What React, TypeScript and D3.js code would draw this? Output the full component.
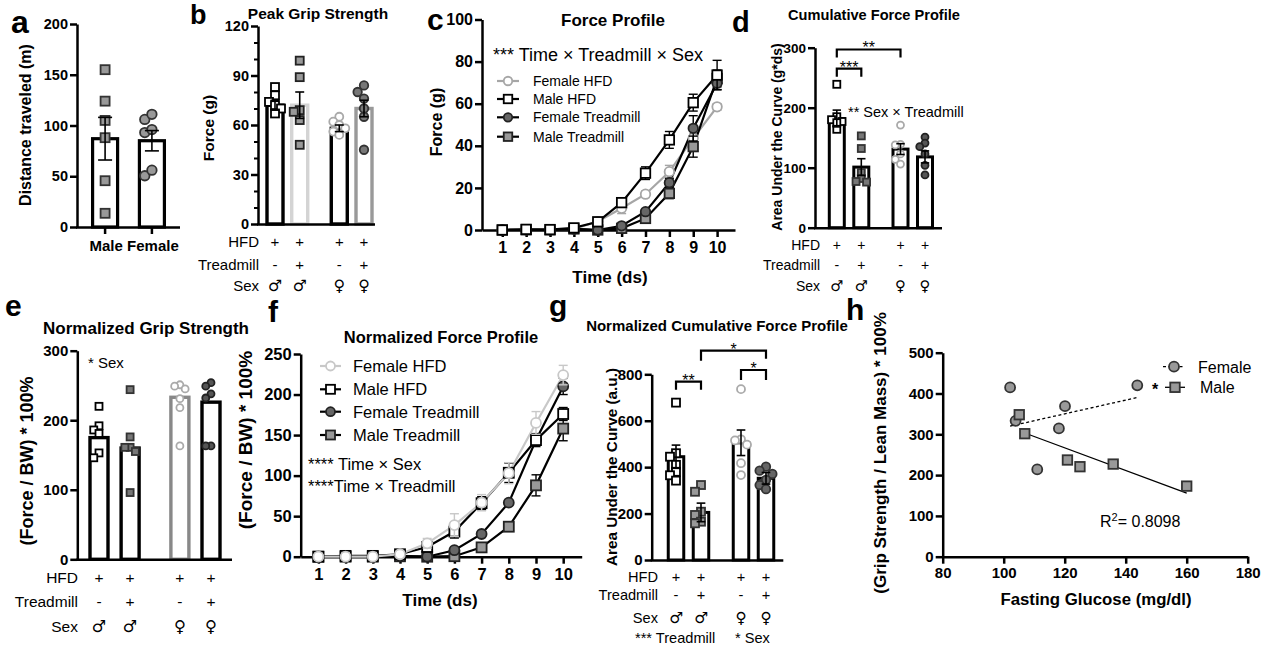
import React, { useEffect, useRef } from 'react';
import * as d3 from 'd3';

const FONT = '"Liberation Sans", Arial, Helvetica, sans-serif';
const SYMFONT = '"DejaVu Sans", "Liberation Sans", sans-serif';

// ---- a: distance traveled
const aGroups = ['Male', 'Female'];
const aMeans = [87, 85];
const aSem = [21, 10];
const aMale = [155, 124, 105, 88, 45.6, 13.5];
const aFemale = [106, 111, 93, 96, 50.5, 56];

// shared table rows for b, d, e, g
const rowLabels = ['HFD', 'Treadmill', 'Sex'];
const hfdRow = ['+', '+', '+', '+'];
const treadRow = ['-', '+', '-', '+'];
const sexRow = ['\u2642', '\u2642', '\u2640', '\u2640'];

// ---- b: peak grip strength (g)
const bMeans = [72, 72, 58, 70];
const bSem = [3, 8, 2, 5];
const bMaleHFD = [83, 78, 74, 72, 70, 67];
const bMaleTM = [99, 89, 69, 68, 63, 48];
const bFemaleHFD = [65, 62, 60, 58, 56, 54];
const bFemaleTM = [84, 80, 76, 70, 65, 45];

// ---- c: force profile (g)
const days = [1, 2, 3, 4, 5, 6, 7, 8, 9, 10];
const seriesNames = ['Female HFD', 'Male HFD', 'Female Treadmill', 'Male Treadmill'];
const cFemaleHFD = [0, 0.2, 0.2, 0.5, 4, 10.3, 17, 27.7, 43.6, 58.5];
const cMaleHFD = [0, 0.3, 0.2, 1, 3.9, 13, 27, 42.8, 60.5, 73.6];
const cFemaleTM = [0, 0.1, 0.1, 0.5, 0, 2, 8.7, 22.5, 48.3, 69.7];
const cMaleTM = [0, 0.1, 0.1, 0.5, 0, 0.8, 5.5, 17.4, 39.6, 72];
const cFemaleHFDErr = [0, 0, 0, 0, 0.8, 2.5, 1.5, 3, 3.5, 1.5];
const cMaleHFDErr = [0, 0, 0, 0.3, 0.8, 2, 3, 4, 4, 7];
const cFemaleTMErr = [0, 0, 0, 0, 0, 0.5, 1, 2, 6, 3];
const cMaleTMErr = [0, 0, 0, 0, 0, 0.5, 1, 2.5, 5, 4];

// ---- d: cumulative force profile (g*ds)
const dMeans = [182, 101, 131, 118];
const dSem = [14, 14, 9, 10];
const dMaleHFD = [239, 185, 180, 177, 175, 164];
const dMaleTM = [153, 132, 92, 82, 77, 76];
const dFemaleHFD = [171, 139, 138, 123, 114, 106];
const dFemaleTM = [151, 141, 135, 123, 104, 88];

// ---- e: normalized grip strength
const eMeans = [175, 160, 233, 226];
const eMaleHFD = [220, 192, 186, 181, 153, 146];
const eMaleTM = [244, 176, 161, 161, 155, 96];
const eFemaleHFD = [251, 249, 245, 231, 218, 163];
const eFemaleTM = [254, 249, 238, 232, 163, 163];

// ---- f: normalized force profile
const fFemaleHFD = [0, 0, 0, 3, 16.5, 39, 66.6, 103, 165, 224];
const fMaleHFD = [0, 1, 1, 3, 12, 31, 66, 103.5, 143.8, 176];
const fFemaleTM = [0, 0, 0, 1, 0, 8, 28, 66.6, 144, 210];
const fMaleTM = [0, 0, 0, 0.5, 0, 0.6, 11.5, 37, 88, 158];
const fFemaleHFDErr = [0, 0, 0, 1, 6, 14, 10, 13, 14, 12];
const fMaleHFDErr = [0, 0, 0, 1, 4, 8, 8, 12, 8, 8];
const fFemaleTMErr = [0, 0, 0, 0, 0, 2, 3, 3, 5, 10];
const fMaleTMErr = [0, 0, 0, 0, 0, 1, 2, 3, 13, 15];

// ---- g: normalized cumulative force profile (a.u.)
const gMeans = [445, 205, 505, 352];
const gSem = [50, 40, 55, 25];
const gMaleHFD = [678, 460, 445, 410, 380, 365, 342];
const gMaleTM = [323, 294, 208, 194, 165, 158];
const gFemaleHFD = [736, 520, 515, 497, 417, 366];
const gFemaleTM = [402, 385, 371, 345, 323, 305];

// ---- h: grip strength / lean mass vs fasting glucose
const hFemaleGlucose = [102.1, 103.9, 111, 118.1, 120.1, 143.8];
const hFemaleGrip = [415, 333, 214, 314.5, 369, 420];
const hMaleGlucose = [105.1, 106.9, 120.9, 125, 135.9, 160];
const hMaleGrip = [348, 301.5, 237, 220.6, 227, 173];

const slot = [0, 1, 2.6, 3.6];

type Sel = d3.Selection<SVGGElement, unknown, null, undefined>;
type Mark = { kind: 'sq' | 'circ'; fill: string; stroke: string; size: number };

function marker(g: Sel, m: Mark, x: number, y: number) {
  if (m.kind === 'sq') {
    g.append('rect')
      .attr('x', x - m.size / 2).attr('y', y - m.size / 2)
      .attr('width', m.size).attr('height', m.size)
      .attr('fill', m.fill).attr('stroke', m.stroke).attr('stroke-width', 1.8);
  } else {
    g.append('circle')
      .attr('cx', x).attr('cy', y).attr('r', m.size / 2)
      .attr('fill', m.fill).attr('stroke', m.stroke).attr('stroke-width', 1.8);
  }
}

// small deterministic scatter so overlapping points spread sideways
function jitter(vals: number[], y: (v: number) => number, size: number) {
  const placed: { dx: number; py: number }[] = [];
  const order = vals.map((v, i) => i).sort((a, b) => vals[b] - vals[a]);
  const res: number[] = new Array(vals.length).fill(0);
  const step = size * 0.75;
  for (const i of order) {
    const py = y(vals[i]);
    const cands = [0, -1, 1, -1.5, 1.5].map(k => k * step);
    let dx = 0;
    for (const c of cands) {
      if (placed.every(q => Math.abs(q.dx - c) >= step || Math.abs(q.py - py) >= size * 0.85)) { dx = c; break; }
    }
    placed.push({ dx, py });
    res[i] = dx;
  }
  return res;
}

function txt(g: Sel, x: number, y: number, s: string, fs: number, opts: { bold?: boolean; anchor?: string; rotate?: boolean; fill?: string; family?: string } = {}) {
  const t = g.append('text')
    .attr('font-family', opts.family || FONT)
    .attr('font-size', fs)
    .attr('font-weight', opts.bold ? 'bold' : 'normal')
    .attr('text-anchor', opts.anchor || 'start')
    .attr('fill', opts.fill || '#000')
    .text(s);
  if (opts.rotate) t.attr('transform', `translate(${x},${y}) rotate(-90)`).attr('dy', '0.35em');
  else t.attr('x', x).attr('y', y);
  return t;
}

function styleAxis(ax: Sel, fs: number) {
  ax.select('.domain').attr('stroke', '#000').attr('stroke-width', 2.5);
  ax.selectAll('line').attr('stroke', '#000').attr('stroke-width', 2.5);
  ax.selectAll('text').attr('font-family', FONT).attr('font-size', fs).attr('font-weight', 'bold').attr('fill', '#000');
}

function yAxis(g: Sel, y: d3.ScaleLinear<number, number>, x: number, ticks: number[], fs: number, minor?: number[]) {
  const ax = g.append('g').attr('transform', `translate(${x},0)`)
    .call(d3.axisLeft(y).tickValues(ticks).tickSize(7).tickSizeOuter(0).tickPadding(2) as any);
  styleAxis(ax, fs);
  if (minor) {
    const mi = g.append('g').attr('transform', `translate(${x},0)`)
      .call(d3.axisLeft(y).tickValues(minor).tickSize(4).tickSizeOuter(0).tickFormat(() => '') as any);
    mi.select('.domain').remove();
    mi.selectAll('line').attr('stroke', '#000').attr('stroke-width', 2);
  }
}

type BarCfg = {
  y0: number; yTop: number; max: number; ticks: number[]; minor?: number[]; fs: number;
  axisX: number; xEnd: number; centers: number[]; width: number; strokes: string[]; sw: number;
  means: number[]; sems?: number[]; points: number[][]; marks: Mark[];
};

function drawBars(svg: Sel, p: BarCfg) {
  const g = svg.append('g');
  const y = d3.scaleLinear().domain([0, p.max]).range([p.y0, p.yTop]);
  p.means.forEach((m, i) => {
    g.append('rect')
      .attr('x', p.centers[i] - p.width / 2).attr('y', y(m))
      .attr('width', p.width).attr('height', p.y0 - y(m))
      .attr('fill', '#fff').attr('stroke', p.strokes[i]).attr('stroke-width', p.sw);
  });
  p.points.forEach((vals, i) => {
    const dx = jitter(vals, y, p.marks[i].size);
    vals.forEach((v, j) => marker(g, p.marks[i], p.centers[i] + dx[j], y(v)));
  });
  if (p.sems) {
    p.means.forEach((m, i) => {
      const e = p.sems![i];
      const cx = p.centers[i];
      const cw = p.width * 0.28;
      g.append('line').attr('x1', cx).attr('x2', cx).attr('y1', y(m - e)).attr('y2', y(m + e)).attr('stroke', '#000').attr('stroke-width', 1.6);
      [m - e, m + e].forEach(v => g.append('line').attr('x1', cx - cw).attr('x2', cx + cw).attr('y1', y(v)).attr('y2', y(v)).attr('stroke', '#000').attr('stroke-width', 1.6));
    });
  }
  yAxis(g, y, p.axisX, p.ticks, p.fs, p.minor);
  g.append('line').attr('x1', p.axisX - 1).attr('x2', p.xEnd).attr('y1', p.y0 + 0.5).attr('y2', p.y0 + 0.5).attr('stroke', '#000').attr('stroke-width', 2.5);
  return { g, y };
}

function drawTable(g: Sel, right: number, centers: number[], baselines: number[], fs: number) {
  const rows = [hfdRow, treadRow, sexRow];
  rowLabels.forEach((lab, r) => {
    txt(g, right, baselines[r], lab, fs, { anchor: 'end' });
    rows[r].forEach((s, i) => txt(g, centers[i], baselines[r], s, r === 2 ? fs * 1.05 : fs,
      { anchor: 'middle', family: r === 2 ? SYMFONT : FONT }));
  });
}

function bracket(g: Sel, x1: number, x2: number, y: number, h1: number, h2: number, label: string, fs: number) {
  g.append('path').attr('d', `M${x1},${y + h1}V${y}H${x2}V${y + h2}`).attr('fill', 'none').attr('stroke', '#000').attr('stroke-width', 2.2);
  txt(g, (x1 + x2) / 2, y + fs * 0.43 - 3, label, fs, { anchor: 'middle' });
}

type LineSeries = { vals: number[]; errs: number[]; line: string; mark: Mark };

function drawLines(svg: Sel, p: {
  axisX: number; y0: number; yTop: number; ymax: number; yticks: number[]; xDomain: [number, number]; xEnd: number; fs: number; series: LineSeries[];
}) {
  const g = svg.append('g');
  const y = d3.scaleLinear().domain([0, p.ymax]).range([p.y0, p.yTop]);
  const x = d3.scaleLinear().domain(p.xDomain).range([p.axisX, p.xEnd]);
  yAxis(g, y, p.axisX, p.yticks, p.fs);
  const xa = g.append('g').attr('transform', `translate(0,${p.y0})`)
    .call(d3.axisBottom(x).tickValues(days).tickFormat(d3.format('d')).tickSize(7).tickSizeOuter(0).tickPadding(5) as any);
  styleAxis(xa, p.fs);
  const lineGen = d3.line<number>().x((d, i) => x(days[i])).y(d => y(d));
  p.series.forEach(s => {
    g.append('path').attr('d', lineGen(s.vals)).attr('fill', 'none').attr('stroke', s.line).attr('stroke-width', 2.2);
  });
  p.series.forEach(s => {
    s.vals.forEach((v, i) => {
      const e = s.errs[i];
      if (e > 0) {
        const cx = x(days[i]);
        g.append('line').attr('x1', cx).attr('x2', cx).attr('y1', y(v - e)).attr('y2', y(v + e)).attr('stroke', s.line).attr('stroke-width', 1.4);
        [v - e, v + e].forEach(w => g.append('line').attr('x1', cx - 4.5).attr('x2', cx + 4.5).attr('y1', y(w)).attr('y2', y(w)).attr('stroke', s.line).attr('stroke-width', 1.4));
      }
    });
    s.vals.forEach((v, i) => marker(g, s.mark, x(days[i]), y(v)));
  });
  return { g, x, y };
}

function legend(g: Sel, series: LineSeries[], x0: number, x1: number, tx: number, rows: number[], fs: number, msize: number) {
  series.forEach((s, i) => {
    g.append('line').attr('x1', x0).attr('x2', x1).attr('y1', rows[i]).attr('y2', rows[i]).attr('stroke', s.line).attr('stroke-width', 2.2);
    marker(g, { ...s.mark, size: msize }, (x0 + x1) / 2, rows[i]);
    txt(g, tx, rows[i] + fs * 0.36, seriesNames[i], fs);
  });
}

function regression(xs: number[], ys: number[]) {
  const mx = d3.mean(xs)!;
  const my = d3.mean(ys)!;
  const sxy = d3.sum(xs, (v, i) => (v - mx) * (ys[i] - my));
  const sxx = d3.sum(xs, v => (v - mx) * (v - mx));
  const slope = sxy / sxx;
  return (v: number) => my + slope * (v - mx);
}

export default function App() {
  const ref = useRef<SVGSVGElement>(null);

  useEffect(() => {
    const root = d3.select(ref.current);
    root.selectAll('*').remove();
    const svg = root.append('g') as unknown as Sel;

    // panel letters
    txt(svg, 11, 33, 'a', 32, { bold: true });
    txt(svg, 190, 24, 'b', 27, { bold: true });
    txt(svg, 427, 30, 'c', 30, { bold: true });
    txt(svg, 732, 32, 'd', 29, { bold: true });
    txt(svg, 5, 316, 'e', 30, { bold: true });
    txt(svg, 268, 322, 'f', 30, { bold: true });
    txt(svg, 549, 316, 'g', 30, { bold: true });
    txt(svg, 846, 320, 'h', 30, { bold: true });

    // ---------- a
    const ax = d3.scalePoint().domain(aGroups).range([77, 180]).padding(0.6);
    const aCenters = aGroups.map(k => ax(k)!);
    const aRes = drawBars(svg, {
      y0: 227, yTop: 24, max: 200, ticks: [0, 50, 100, 150, 200], fs: 14.5,
      axisX: 77, xEnd: 180, centers: aCenters, width: 25, strokes: ['#000', '#000'], sw: 3.2,
      means: aMeans, sems: aSem, points: [aMale, aFemale],
      marks: [{ kind: 'sq', fill: '#999', stroke: '#333', size: 9 }, { kind: 'circ', fill: '#999', stroke: '#333', size: 9.5 }],
    });
    aCenters.forEach((c, i) => {
      aRes.g.append('line').attr('x1', c).attr('x2', c).attr('y1', 227).attr('y2', 234).attr('stroke', '#000').attr('stroke-width', 2.5);
      txt(aRes.g, i === 0 ? c + 1 : c + 1, 251, aGroups[i], 15, { bold: true, anchor: 'middle' });
    });
    txt(svg, 25, 125, 'Distance traveled (m)', 16, { bold: true, anchor: 'middle', rotate: true });

    // ---------- b
    const bx = d3.scaleLinear().domain([0, 3.6]).range([275, 364]);
    const bCenters = slot.map(s => bx(s));
    const bRes = drawBars(svg, {
      y0: 224, yTop: 26, max: 120, ticks: [0, 30, 60, 90, 120], minor: [10, 20, 40, 50, 70, 80, 100, 110], fs: 14.5,
      axisX: 258, xEnd: 375, centers: bCenters, width: 16, strokes: ['#000', '#d4d4d4', '#000', '#999'], sw: 3.4,
      means: bMeans, sems: bSem, points: [bMaleHFD, bMaleTM, bFemaleHFD, bFemaleTM],
      marks: [
        { kind: 'sq', fill: '#fff', stroke: '#000', size: 8 },
        { kind: 'sq', fill: '#999', stroke: '#222', size: 8 },
        { kind: 'circ', fill: '#fff', stroke: '#aaa', size: 8 },
        { kind: 'circ', fill: '#777', stroke: '#333', size: 8.5 },
      ],
    });
    drawTable(bRes.g, 259, bCenters, [247, 270, 291], 15);
    txt(svg, 318, 19, 'Peak Grip Strength', 15.5, { bold: true, anchor: 'middle' });
    txt(svg, 209, 128, 'Force (g)', 15.5, { bold: true, anchor: 'middle', rotate: true });

    // ---------- c
    const cSeries: LineSeries[] = [
      { vals: cFemaleHFD, errs: cFemaleHFDErr, line: '#a6a6a6', mark: { kind: 'circ', fill: '#fff', stroke: '#a6a6a6', size: 9.5 } },
      { vals: cMaleHFD, errs: cMaleHFDErr, line: '#000', mark: { kind: 'sq', fill: '#fff', stroke: '#000', size: 9.5 } },
      { vals: cFemaleTM, errs: cFemaleTMErr, line: '#000', mark: { kind: 'circ', fill: '#666', stroke: '#222', size: 9.5 } },
      { vals: cMaleTM, errs: cMaleTMErr, line: '#000', mark: { kind: 'sq', fill: '#999', stroke: '#222', size: 9.5 } },
    ];
    const cRes = drawLines(svg, {
      axisX: 482, y0: 230, yTop: 19.5, ymax: 100, yticks: [0, 20, 40, 60, 80, 100], xDomain: [0.15, 10.75], xEnd: 735, fs: 16,
      series: [cSeries[0], cSeries[3], cSeries[2], cSeries[1]],
    });
    legend(cRes.g, cSeries, 497, 519, 533, [81, 99, 117.3, 136.7], 14, 8.5);
    txt(svg, 613, 26, 'Force Profile', 17, { bold: true, anchor: 'middle' });
    txt(svg, 493, 61, '*** Time \u00d7 Treadmill \u00d7 Sex', 18);
    txt(svg, 436, 122, 'Force (g)', 16, { bold: true, anchor: 'middle', rotate: true });
    txt(svg, 610, 283, 'Time (ds)', 17, { bold: true, anchor: 'middle' });

    // ---------- d
    const dx = d3.scaleLinear().domain([0, 3.6]).range([836.8, 925]);
    const dCenters = slot.map(s => dx(s));
    const dRes = drawBars(svg, {
      y0: 227.7, yTop: 47.7, max: 300, ticks: [0, 100, 200, 300], fs: 13.5,
      axisX: 815, xEnd: 942, centers: dCenters, width: 15, strokes: ['#000', '#000', '#000', '#000'], sw: 3,
      means: dMeans, sems: dSem, points: [dMaleHFD, dMaleTM, dFemaleHFD, dFemaleTM],
      marks: [
        { kind: 'sq', fill: '#fff', stroke: '#000', size: 7 },
        { kind: 'sq', fill: '#777', stroke: '#333', size: 7 },
        { kind: 'circ', fill: '#fff', stroke: '#aaa', size: 7 },
        { kind: 'circ', fill: '#555', stroke: '#222', size: 7 },
      ],
    });
    bracket(dRes.g, dCenters[0], dCenters[2], dRes.y(297), 8, 8, '**', 16);
    bracket(dRes.g, dCenters[0], dCenters[1], dRes.y(265), 8, 8, '***', 16);
    txt(dRes.g, 848, 117, '** Sex \u00d7 Treadmill', 14.5);
    drawTable(dRes.g, 820, dCenters, [250, 270, 291], 14);
    txt(svg, 874, 20, 'Cumulative Force Profile', 14.6, { bold: true, anchor: 'middle' });
    txt(svg, 777, 137, 'Area Under the Curve (g*ds)', 14, { bold: true, anchor: 'middle', rotate: true });

    // ---------- e
    const ex = d3.scaleLinear().domain([0, 3.6]).range([99, 211]);
    const eCenters = slot.map(s => ex(s));
    const eRes = drawBars(svg, {
      y0: 559.3, yTop: 350.7, max: 300, ticks: [0, 100, 200, 300], fs: 15,
      axisX: 77.3, xEnd: 232, centers: eCenters, width: 18, strokes: ['#000', '#000', '#888', '#000'], sw: 3.4,
      means: eMeans, points: [eMaleHFD, eMaleTM, eFemaleHFD, eFemaleTM],
      marks: [
        { kind: 'sq', fill: '#fff', stroke: '#000', size: 7 },
        { kind: 'sq', fill: '#777', stroke: '#333', size: 7 },
        { kind: 'circ', fill: '#fff', stroke: '#aaa', size: 7 },
        { kind: 'circ', fill: '#555', stroke: '#222', size: 7 },
      ],
    });
    txt(eRes.g, 88, 368, '* Sex', 15);
    drawTable(eRes.g, 78, eCenters, [583, 607, 632], 15.5);
    txt(svg, 146, 334, 'Normalized Grip Strength', 17, { bold: true, anchor: 'middle' });
    txt(svg, 27, 461, '(Force / BW) * 100%', 18, { bold: true, anchor: 'middle', rotate: true });

    // ---------- f
    const fSeries: LineSeries[] = [
      { vals: fFemaleHFD, errs: fFemaleHFDErr, line: '#c8c8c8', mark: { kind: 'circ', fill: '#fff', stroke: '#c8c8c8', size: 10 } },
      { vals: fMaleHFD, errs: fMaleHFDErr, line: '#000', mark: { kind: 'sq', fill: '#fff', stroke: '#000', size: 10 } },
      { vals: fFemaleTM, errs: fFemaleTMErr, line: '#000', mark: { kind: 'circ', fill: '#666', stroke: '#222', size: 10 } },
      { vals: fMaleTM, errs: fMaleTMErr, line: '#000', mark: { kind: 'sq', fill: '#999', stroke: '#222', size: 10 } },
    ];
    const fRes = drawLines(svg, {
      axisX: 300.7, y0: 556.7, yTop: 354, ymax: 250, yticks: [0, 50, 100, 150, 200, 250], xDomain: [0.35, 10.68], xEnd: 581.7, fs: 16.5,
      series: [fSeries[3], fSeries[2], fSeries[1], fSeries[0]],
    });
    legend(fRes.g, fSeries, 320, 341, 353, [366, 389.3, 411.7, 435], 16.5, 9);
    txt(svg, 441, 343, 'Normalized Force Profile', 16.5, { bold: true, anchor: 'middle' });
    txt(svg, 308, 470, '**** Time \u00d7 Sex', 16.5);
    txt(svg, 308, 491.5, '****Time \u00d7 Treadmill', 16.5);
    txt(svg, 245, 440, '(Force / BW) * 100%', 19, { bold: true, anchor: 'middle', rotate: true });
    txt(svg, 440, 606, 'Time (ds)', 17, { bold: true, anchor: 'middle' });

    // ---------- g
    const gx = d3.scaleLinear().domain([0, 3.6]).range([676, 766]);
    const gCenters = slot.map(s => gx(s));
    const gRes = drawBars(svg, {
      y0: 560, yTop: 374.3, max: 800, ticks: [0, 200, 400, 600, 800], fs: 15,
      axisX: 651.7, xEnd: 783.3, centers: gCenters, width: 15.5, strokes: ['#000', '#000', '#000', '#000'], sw: 3,
      means: gMeans, sems: gSem, points: [gMaleHFD, gMaleTM, gFemaleHFD, gFemaleTM],
      marks: [
        { kind: 'sq', fill: '#fff', stroke: '#000', size: 8 },
        { kind: 'sq', fill: '#999', stroke: '#333', size: 8 },
        { kind: 'circ', fill: '#fff', stroke: '#aaa', size: 8 },
        { kind: 'circ', fill: '#666', stroke: '#333', size: 8.5 },
      ],
    });
    bracket(gRes.g, gCenters[0], gCenters[1], 381.7, 8, 8, '**', 16);
    bracket(gRes.g, gCenters[1], gCenters[3], 350.7, 10, 8, '*', 16);
    bracket(gRes.g, gCenters[2], gCenters[3], 370, 10, 10, '*', 16);
    drawTable(gRes.g, 658, gCenters, [582, 600, 623], 14.6);
    txt(gRes.g, 635, 643, '*** Treadmill', 14.6);
    txt(gRes.g, 735, 643, '* Sex', 14.6);
    txt(svg, 717, 331, 'Normalized Cumulative Force Profile', 15, { bold: true, anchor: 'middle' });
    txt(svg, 612, 467, 'Area Under the Curve (a.u.)', 15.3, { bold: true, anchor: 'middle', rotate: true });

    // ---------- h
    const hg = svg.append('g');
    const hxS = d3.scaleLinear().domain([80, 180]).range([942.7, 1247.7]);
    const hyS = d3.scaleLinear().domain([0, 500]).range([556.7, 352.7]);
    yAxis(hg, hyS, 942.7, [0, 100, 200, 300, 400, 500], 15);
    const hxa = hg.append('g').attr('transform', 'translate(0,556.7)')
      .call(d3.axisBottom(hxS).tickValues([80, 100, 120, 140, 160, 180]).tickSize(7).tickSizeOuter(0).tickPadding(4) as any);
    styleAxis(hxa, 15);
    const fFit = regression(hFemaleGlucose, hFemaleGrip);
    const mFit = regression(hMaleGlucose, hMaleGrip);
    const fx0 = d3.min(hFemaleGlucose)!, fx1 = d3.max(hFemaleGlucose)!;
    const mx0 = d3.min(hMaleGlucose.slice(1))!, mx1 = d3.max(hMaleGlucose)!;
    hg.append('line').attr('x1', hxS(fx0)).attr('x2', hxS(fx1)).attr('y1', hyS(fFit(fx0))).attr('y2', hyS(fFit(fx1)))
      .attr('stroke', '#000').attr('stroke-width', 1.3).attr('stroke-dasharray', '3,2.5');
    hg.append('line').attr('x1', hxS(mx0)).attr('x2', hxS(mx1)).attr('y1', hyS(mFit(mx0))).attr('y2', hyS(mFit(mx1)))
      .attr('stroke', '#000').attr('stroke-width', 1.3);
    const hCirc: Mark = { kind: 'circ', fill: '#999', stroke: '#333', size: 10 };
    const hSq: Mark = { kind: 'sq', fill: '#999', stroke: '#333', size: 9.5 };
    hFemaleGlucose.forEach((v, i) => marker(hg, hCirc, hxS(v), hyS(hFemaleGrip[i])));
    hMaleGlucose.forEach((v, i) => marker(hg, hSq, hxS(v), hyS(hMaleGrip[i])));
    hg.append('line').attr('x1', 1163).attr('x2', 1185).attr('y1', 366.7).attr('y2', 366.7).attr('stroke', '#000').attr('stroke-width', 1.3).attr('stroke-dasharray', '3,2.5');
    marker(hg, hCirc, 1174, 366.7);
    txt(hg, 1198, 372.5, 'Female', 16);
    txt(hg, 1152, 395, '*', 16, { bold: true });
    hg.append('line').attr('x1', 1165).attr('x2', 1185).attr('y1', 387.3).attr('y2', 387.3).attr('stroke', '#000').attr('stroke-width', 1.3);
    marker(hg, hSq, 1175, 387.3);
    txt(hg, 1200, 393, 'Male', 16);
    const r2 = txt(hg, 1100, 527, 'R', 16);
    r2.append('tspan').attr('dy', -6).attr('font-size', 11).text('2');
    r2.append('tspan').attr('dy', 6).text('= 0.8098');
    txt(svg, 880, 453, '(Grip Strength / Lean Mass) * 100%', 17, { bold: true, anchor: 'middle', rotate: true });
    txt(svg, 1096, 605, 'Fasting Glucose (mg/dl)', 16.8, { bold: true, anchor: 'middle' });
  }, []);

  return (
    <svg ref={ref} width={1274} height={650}
      style={{ position: 'absolute', left: 0, top: 0, background: '#fff' }} />
  );
}
